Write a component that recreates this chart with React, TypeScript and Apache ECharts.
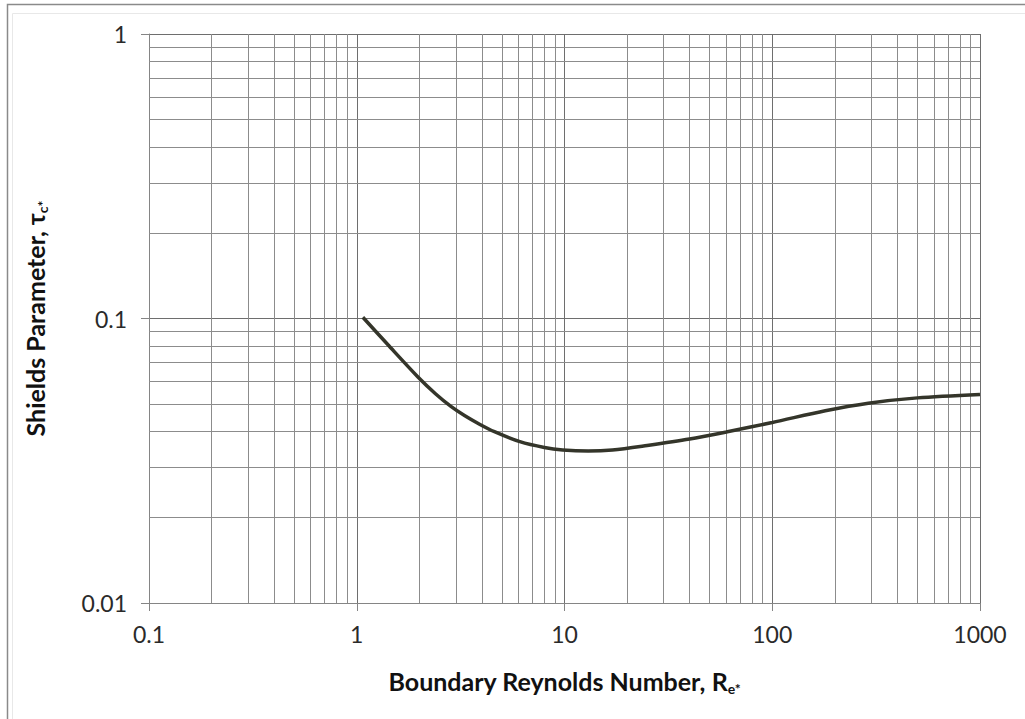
import React, { useEffect, useRef } from "react";
import * as echarts from "echarts";

const reynolds = [1.07, 1.41, 1.97, 2.4, 2.85, 3.3, 3.9, 4.6, 6.1, 8, 9.8, 13, 17, 25, 40, 60, 100, 180, 290, 500, 1000];
const shields = [0.101, 0.081, 0.0623, 0.0543, 0.049, 0.0456, 0.0425, 0.04, 0.0369, 0.0352, 0.0345, 0.0342, 0.0345, 0.0358, 0.0377, 0.0399, 0.0431, 0.0474, 0.0504, 0.0526, 0.0541];

const xTickLabels = ["0.1", "1", "10", "100", "1000"];
const yTickLabels = ["0.01", "0.1", "1"];
const xMinorGrid = [0.2, 0.3, 0.4, 0.5, 0.6, 0.7, 0.8, 0.9, 2, 3, 4, 5, 6, 7, 8, 9, 20, 30, 40, 50, 60, 70, 80, 90, 200, 300, 400, 500, 600, 700, 800, 900];
const yMinorGrid = [0.02, 0.03, 0.04, 0.05, 0.06, 0.07, 0.08, 0.09, 0.2, 0.3, 0.4, 0.5, 0.6, 0.7, 0.8, 0.9];

const FONT = "Lato, 'Open Sans', sans-serif";

export default function App() {
  const ref = useRef<HTMLDivElement>(null);
  useEffect(() => {
    if (!ref.current) return;
    const chart = echarts.init(ref.current, null, { renderer: "svg" });
    const axisColor = "#858585";
    const titleRich = {
      r: { fontFamily: FONT, fontWeight: "bold", fontSize: 25, color: "#111" },
      s: { fontFamily: FONT, fontWeight: "bold", fontSize: 14, color: "#111", verticalAlign: "bottom", padding: [14, 0, 0, 0] },
    };
    chart.setOption({
      animation: false,
      backgroundColor: "#ffffff",
      textStyle: { fontFamily: FONT },
      grid: { left: 149, right: 45, top: 34, bottom: 116, containLabel: false },
      graphic: [
        {
          type: "polyline",
          shape: { points: [[7.5, 740], [7.5, 4.5], [1040, 4.5]] },
          style: { stroke: "#8a8a8a", lineWidth: 1.5, fill: "none" },
          silent: true,
        },
        {
          type: "polyline",
          shape: { points: [[12.5, 740], [12.5, 13.5], [1040, 13.5]] },
          style: { stroke: "#e8e8e8", lineWidth: 1, fill: "none" },
          silent: true,
        },
      ],
      xAxis: {
        type: "log",
        logBase: 10,
        min: 0.1,
        max: 1000,
        splitNumber: 4,
        name: "Boundary Reynolds Number, {r|R}{s|e*}",
        nameLocation: "middle",
        nameGap: 64,
        nameTextStyle: {
          fontFamily: FONT,
          fontWeight: "bold",
          fontSize: 25,
          color: "#111",
          rich: titleRich,
        },
        axisLine: { show: true, lineStyle: { color: axisColor, width: 1 } },
        axisTick: { show: true, inside: false, length: 8, lineStyle: { color: axisColor } },
        axisLabel: {
          fontFamily: FONT,
          fontSize: 23,
          color: "#2a2a2a",
          margin: 19,
          formatter: (v: number) => xTickLabels[Math.round(Math.log10(v)) + 1] ?? "",
        },
        splitLine: { show: true, lineStyle: { color: "#6e6e6e", width: 1 } },
      },
      yAxis: {
        type: "log",
        logBase: 10,
        min: 0.01,
        max: 1,
        splitNumber: 2,
        name: "Shields Parameter, {r|τ}{s|c*}",
        nameLocation: "middle",
        nameRotate: 90,
        nameGap: 100,
        nameTextStyle: {
          fontFamily: FONT,
          fontWeight: "bold",
          fontSize: 25,
          color: "#111",
          rich: titleRich,
        },
        axisLine: { show: true, lineStyle: { color: axisColor, width: 1 } },
        axisTick: { show: true, inside: false, length: 8, lineStyle: { color: axisColor } },
        axisLabel: {
          fontFamily: FONT,
          fontSize: 23,
          color: "#2a2a2a",
          margin: 22,
          formatter: (v: number) => yTickLabels[Math.round(Math.log10(v)) + 2] ?? "",
        },
        splitLine: { show: true, lineStyle: { color: "#6e6e6e", width: 1 } },
      },
      series: [
        {
          type: "line",
          data: [],
          z: 1,
          silent: true,
          markLine: {
            silent: true,
            symbol: ["none", "none"],
            label: { show: false },
            emphasis: { disabled: true },
            lineStyle: { color: "#8c8c8c", width: 1, type: "solid" },
            data: [
              ...xMinorGrid.map((v) => ({ xAxis: v })),
              ...yMinorGrid.map((v) => ({ yAxis: v })),
            ],
          },
        },
        {
          type: "line",
          z: 5,
          data: reynolds.map((r, i) => [r, shields[i]]),
          smooth: 0.3,
          showSymbol: false,
          symbol: "none",
          silent: true,
          lineStyle: { color: "#34352a", width: 3.5 },
          emphasis: { disabled: true },
        },
      ],
    });
    return () => chart.dispose();
  }, []);
  return (
    <div
      ref={ref}
      style={{ position: "absolute", left: 0, top: 0, width: 1025, height: 719 }}
    />
  );
}
